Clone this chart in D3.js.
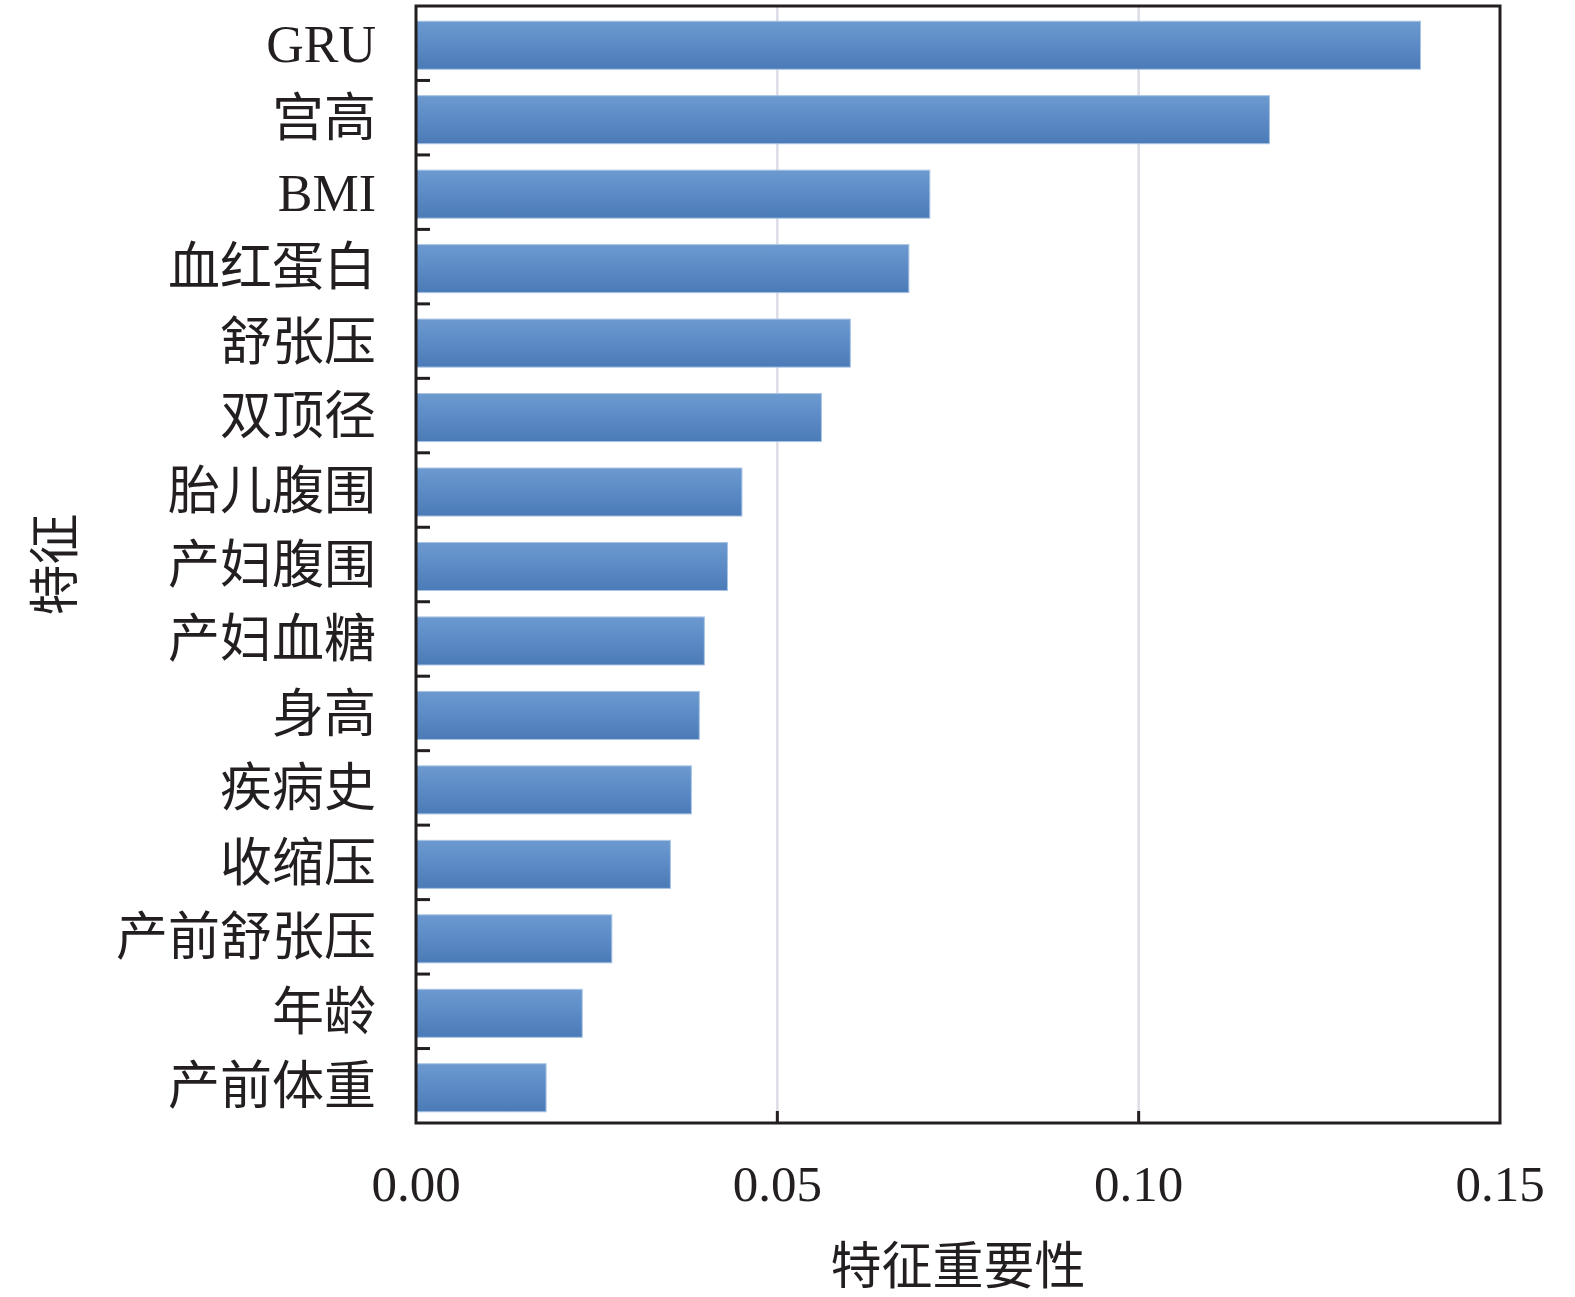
<!DOCTYPE html>
<html>
<head>
<meta charset="utf-8">
<script src="https://cdn.jsdelivr.net/npm/d3@7/dist/d3.min.js"></script>
<style>
  html, body { margin: 0; padding: 0; background: #fff; }
  svg { display: block; }
  text { fill: #231f20; }
</style>
</head>
<body>
<svg id="chart" width="1575" height="1297"></svg>
<script>
// ---- data ----
const categories = ["GRU", "宫高", "BMI", "血红蛋白", "舒张压", "双顶径", "胎儿腹围", "产妇腹围",
                    "产妇血糖", "身高", "疾病史", "收缩压", "产前舒张压", "年龄", "产前体重"];
const importance = [0.1390, 0.1181, 0.0711, 0.0682, 0.0601, 0.0561, 0.0451, 0.0431,
                    0.0399, 0.0392, 0.0381, 0.0352, 0.0271, 0.0230, 0.0180];
const xTicks = [0.00, 0.05, 0.10, 0.15];
const xTitle = "特征重要性";
const yTitle = "特征";

// ---- layout ----
const W = 1575, H = 1297;
const plot = { left: 416, right: 1500, top: 6, bottom: 1123 };
const fontFamily = "'Liberation Serif', 'Times New Roman', 'Noto Sans CJK SC', serif";
const ink = "#231f20";

const svg = d3.select("#chart");

const x = d3.scaleLinear().domain([0, 0.15]).range([plot.left, plot.right]);
const y = d3.scaleBand().domain(categories).range([plot.top, plot.bottom])
  .paddingInner(0.355).paddingOuter(0.1775);

const defs = svg.append("defs");
const grad = defs.append("linearGradient").attr("id", "barGrad")
  .attr("x1", 0).attr("y1", 0).attr("x2", 0).attr("y2", 1);
grad.append("stop").attr("offset", "0%").attr("stop-color", "#6c9acf");
grad.append("stop").attr("offset", "50%").attr("stop-color", "#5b8ac6");
grad.append("stop").attr("offset", "100%").attr("stop-color", "#4b7bb6");

// gridlines
svg.append("g").selectAll("line")
  .data(xTicks.filter(t => t > 0 && t < 0.15))
  .join("line")
  .attr("x1", d => x(d)).attr("x2", d => x(d))
  .attr("y1", plot.top).attr("y2", plot.bottom)
  .attr("stroke", "#dcdde7").attr("stroke-width", 2.5);

// bars (slightly offset downward within their band, as in the original)
svg.append("g").attr("transform", "translate(0,2)").selectAll("rect")
  .data(categories.map((c, i) => ({ c, v: importance[i] })))
  .join("rect")
  .attr("x", x(0))
  .attr("y", d => y(d.c))
  .attr("width", d => x(d.v) - x(0))
  .attr("height", y.bandwidth())
  .attr("fill", "url(#barGrad)")
  .attr("stroke", "#a9c3e3")
  .attr("stroke-width", 1);

// frame
svg.append("rect")
  .attr("x", plot.left).attr("y", plot.top)
  .attr("width", plot.right - plot.left).attr("height", plot.bottom - plot.top)
  .attr("fill", "none").attr("stroke", ink).attr("stroke-width", 3);

// y ticks at band boundaries (inward)
const step = y.step();
const boundaries = categories.slice(0, -1).map(c => y(c) + y.bandwidth() + step * y.paddingInner() / 2);
svg.append("g").selectAll("line")
  .data(boundaries)
  .join("line")
  .attr("x1", plot.left).attr("x2", plot.left + 14)
  .attr("y1", d => d).attr("y2", d => d)
  .attr("stroke", ink).attr("stroke-width", 3);

// x ticks (inward)
svg.append("g").selectAll("line")
  .data(xTicks.filter(t => t > 0 && t < 0.15))
  .join("line")
  .attr("x1", d => x(d)).attr("x2", d => x(d))
  .attr("y1", plot.bottom).attr("y2", plot.bottom - 12)
  .attr("stroke", ink).attr("stroke-width", 3);

// y labels
svg.append("g").selectAll("text")
  .data(categories)
  .join("text")
  .attr("x", 376)
  .attr("y", d => y(d) + y.bandwidth() / 2 + 1)
  .attr("text-anchor", "end")
  .attr("dominant-baseline", "central")
  .attr("font-family", fontFamily)
  .attr("font-size", 52)
  .text(d => d);

// x tick labels
svg.append("g").selectAll("text")
  .data(xTicks)
  .join("text")
  .attr("x", d => x(d))
  .attr("y", 1201)
  .attr("text-anchor", "middle")
  .attr("font-family", fontFamily)
  .attr("font-size", 51)
  .text(d => d3.format(".2f")(d));

// axis titles
svg.append("text")
  .attr("x", (plot.left + plot.right) / 2)
  .attr("y", 1267)
  .attr("text-anchor", "middle")
  .attr("dominant-baseline", "central")
  .attr("font-family", fontFamily)
  .attr("font-size", 51)
  .text(xTitle);

svg.append("text")
  .attr("transform", `translate(56, ${(plot.top + plot.bottom) / 2}) rotate(-90)`)
  .attr("text-anchor", "middle")
  .attr("dominant-baseline", "central")
  .attr("font-family", fontFamily)
  .attr("font-size", 51)
  .text(yTitle);
</script>
</body>
</html>
